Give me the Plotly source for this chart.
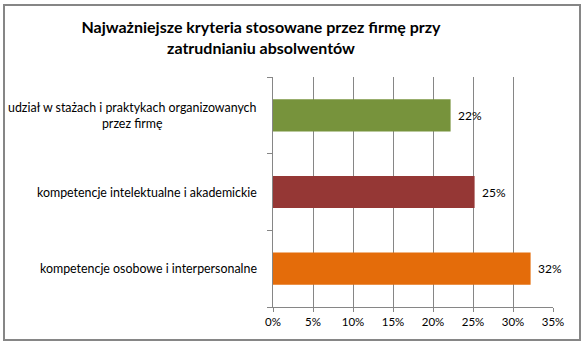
import plotly.graph_objects as go

# Criteria (bottom to top as drawn on the category axis)
categories = [
    "kompetencje osobowe i interpersonalne",
    "kompetencje intelektualne i akademickie",
    "udział w stażach i praktykach organizowanych<br>przez firmę",
]
shares = [0.322, 0.252, 0.222]
bar_colors = ["#E46C0A", "#953735", "#77933C"]
x_ticks = [0, 0.05, 0.10, 0.15, 0.20, 0.25, 0.30, 0.35]
x_tick_labels = ["0%", "5%", "10%", "15%", "20%", "25%", "30%", "35%"]

FONT = "Lato"
GRID = "#868686"

fig = go.Figure(
    go.Bar(
        x=shares,
        y=[0, 1, 2],
        orientation="h",
        marker=dict(color=bar_colors, line=dict(width=0)),
        width=0.42,
        hoverinfo="skip",
    )
)

# Value labels just past the end of each bar
for i, v in enumerate(shares):
    fig.add_annotation(
        x=v, xref="x", xanchor="left", xshift=5,
        y=i, yref="y", yanchor="middle",
        text=f"{v:.0%}", showarrow=False,
        font=dict(family=FONT, size=12, color="#000000"),
    )

# Category labels, centred line by line to the left of the axis
for i, label in enumerate(categories):
    fig.add_annotation(
        x=-0.05, xref="paper", xanchor="right",
        y=i, yref="y", yanchor="middle",
        text=label, showarrow=False, align="center",
        font=dict(family=FONT, size=12.4, color="#000000"),
    )

# Outer chart frame
fig.add_shape(
    type="rect", xref="paper", yref="paper",
    x0=(4 - 273) / 280, x1=(580 - 273) / 280,
    y0=(307 - 340) / 230, y1=(307 - 5) / 230,
    line=dict(color=GRID, width=2), fillcolor="rgba(0,0,0,0)", layer="below",
)

fig.update_layout(
    width=584, height=345,
    margin=dict(l=273, r=31, t=77, b=38),
    paper_bgcolor="#FFFFFF", plot_bgcolor="#FFFFFF",
    showlegend=False,
    title=dict(
        text="<b>Najważniejsze kryteria stosowane przez firmę przy<br>zatrudnianiu absolwentów</b>",
        x=261 / 584, xanchor="center", y=1 - 33 / 345, yanchor="middle",
        font=dict(family=FONT, size=16, color="#000000"),
    ),
    xaxis=dict(
        range=[0, 0.35], tickvals=x_ticks, ticktext=x_tick_labels,
        showgrid=True, gridcolor=GRID, gridwidth=1,
        showline=True, linecolor=GRID, linewidth=1,
        ticks="outside", ticklen=4, tickcolor=GRID,
        tickfont=dict(family=FONT, size=11.5, color="#000000"),
        zeroline=False, fixedrange=True,
    ),
    yaxis=dict(
        range=[-0.5, 2.5], tickvals=[-0.5, 0.5, 1.5, 2.5], ticktext=["", "", "", ""],
        showgrid=False, showline=True, linecolor=GRID, linewidth=1,
        ticks="outside", ticklen=5, tickcolor=GRID,
        zeroline=False, fixedrange=True,
    ),
)

fig.write_html("out.html")
